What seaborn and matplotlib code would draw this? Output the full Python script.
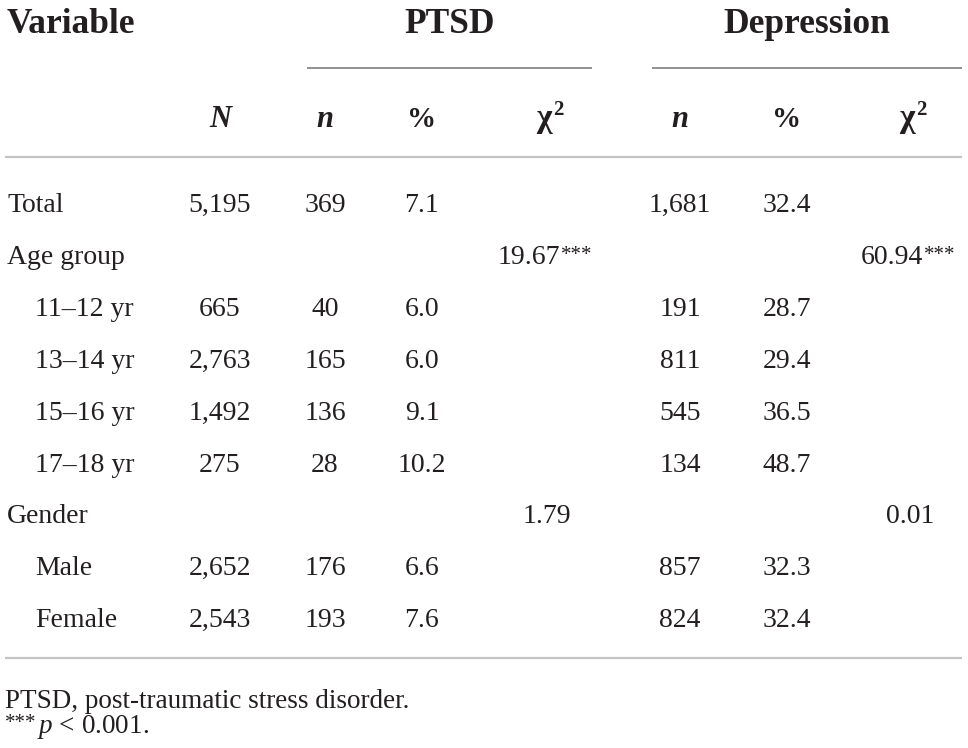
import numpy as np
import pandas as pd
import seaborn as sns
import matplotlib.pyplot as plt

sns.set_style("white")
plt.rcParams['font.family'] = ['Liberation Serif', 'DejaVu Serif']
plt.rcParams['mathtext.fontset'] = 'custom'
plt.rcParams['mathtext.rm'] = 'Liberation Serif'
plt.rcParams['mathtext.it'] = 'Liberation Serif:italic'
plt.rcParams['mathtext.bf'] = 'Liberation Serif:bold'

# table content
labels = ["Total", "Age group", "11\u201312 yr", "13\u201314 yr", "15\u201316 yr",
          "17\u201318 yr", "Gender", "Male", "Female"]
indent = [0, 0, 1, 1, 1, 1, 0, 1, 1]
total_n = [5195, None, 665, 2763, 1492, 275, None, 2652, 2543]
ptsd_n = [369, None, 40, 165, 136, 28, None, 176, 193]
ptsd_pct = [7.1, None, 6.0, 6.0, 9.1, 10.2, None, 6.6, 7.6]
ptsd_chi = [None, 19.67, None, None, None, None, 1.79, None, None]
ptsd_sig = ["", "***", "", "", "", "", "", "", ""]
dep_n = [1681, None, 191, 811, 545, 134, None, 857, 824]
dep_pct = [32.4, None, 28.7, 29.4, 36.5, 48.7, None, 32.3, 32.4]
dep_chi = [None, 60.94, None, None, None, None, 0.01, None, None]
dep_sig = ["", "***", "", "", "", "", "", "", ""]
footnote = "PTSD, post-traumatic stress disorder."

df = pd.DataFrame({"label": labels, "indent": indent, "N": total_n,
                   "ptsd_n": ptsd_n, "ptsd_pct": ptsd_pct, "ptsd_chi": ptsd_chi,
                   "dep_n": dep_n, "dep_pct": dep_pct, "dep_chi": dep_chi})

ink = '#231f20'
col_x = {"N": 220, "ptsd_n": 325, "ptsd_pct": 422, "ptsd_chi": 547,
         "dep_n": 680, "dep_pct": 787, "dep_chi": 910}

fig = plt.figure(figsize=(9.68, 7.48), dpi=100)
ax = fig.add_axes([0, 0, 1, 1])
ax.set_xlim(0, 968)
ax.set_ylim(748, 0)
ax.axis('off')

# top header
ax.text(7, 33, "Variable", fontsize=25.5, fontweight='bold', color=ink, va='baseline')
ax.text(450, 33, "PTSD", fontsize=25.5, fontweight='bold', color=ink, va='baseline', ha='center')
ax.text(807, 33, "Depression", fontsize=25.5, fontweight='bold', color=ink, va='baseline', ha='center')
ax.hlines(68, 307, 592, color='#7f7f7f', lw=1.2)
ax.hlines(68, 652, 962, color='#7f7f7f', lw=1.2)

# column headers
for key, txt in [("N", "N"), ("ptsd_n", "n"), ("dep_n", "n")]:
    ax.text(col_x[key], 127, txt, fontsize=22, fontweight='bold', fontstyle='italic',
            color=ink, va='baseline', ha='center')
for key in ["ptsd_pct", "dep_pct"]:
    ax.text(col_x[key], 127, "%", fontsize=21, fontweight='bold', color=ink,
            va='baseline', ha='center')
for key in ["ptsd_chi", "dep_chi"]:
    ax.text(col_x[key] + 5, 127, "\u03c7", fontsize=24, fontweight='bold', color=ink,
            va='baseline', ha='right')
    ax.text(col_x[key] + 6, 115, "2", fontsize=15, fontweight='bold', color=ink,
            va='baseline', ha='left')
ax.hlines(157, 5, 962, color='#c4c4c4', lw=1.6)

# body rows
row_y = 202 + 51.9 * np.arange(len(df))
for i, row in df.iterrows():
    y = row_y[i] + 10
    ax.text(7 + 28 * row["indent"], y, row["label"], fontsize=20, color=ink, va='baseline')
    for key in ["N", "ptsd_n", "dep_n"]:
        if pd.notna(row[key]):
            ax.text(col_x[key], y, f"{int(row[key]):,}", fontsize=20, color=ink,
                    va='baseline', ha='center')
    for key in ["ptsd_pct", "dep_pct"]:
        if pd.notna(row[key]):
            ax.text(col_x[key], y, f"{row[key]:.1f}", fontsize=20, color=ink,
                    va='baseline', ha='center')
    for key, sig in [("ptsd_chi", ptsd_sig), ("dep_chi", dep_sig)]:
        if pd.notna(row[key]):
            shift = 18 if sig[i] else 0
            t = ax.text(col_x[key] - shift, y, f"{row[key]:.2f}", fontsize=20, color=ink,
                        va='baseline', ha='center')
            if sig[i]:
                ax.annotate(sig[i], xy=(1, 1), xycoords=t, xytext=(0.5, -1),
                            textcoords='offset points', fontsize=15, color=ink,
                            ha='left', va='top')
ax.hlines(658, 5, 962, color='#c4c4c4', lw=1.6)

# footnotes
ax.text(5, 708, footnote, fontsize=19.5, color=ink, va='baseline')
ax.text(5, 728, "***", fontsize=15, color=ink, va='baseline')
ax.text(37, 733, r"$\mathit{p}$ < 0.001.", fontsize=19.5, color=ink, va='baseline')

fig.savefig("out.png", dpi=100, facecolor='white')
